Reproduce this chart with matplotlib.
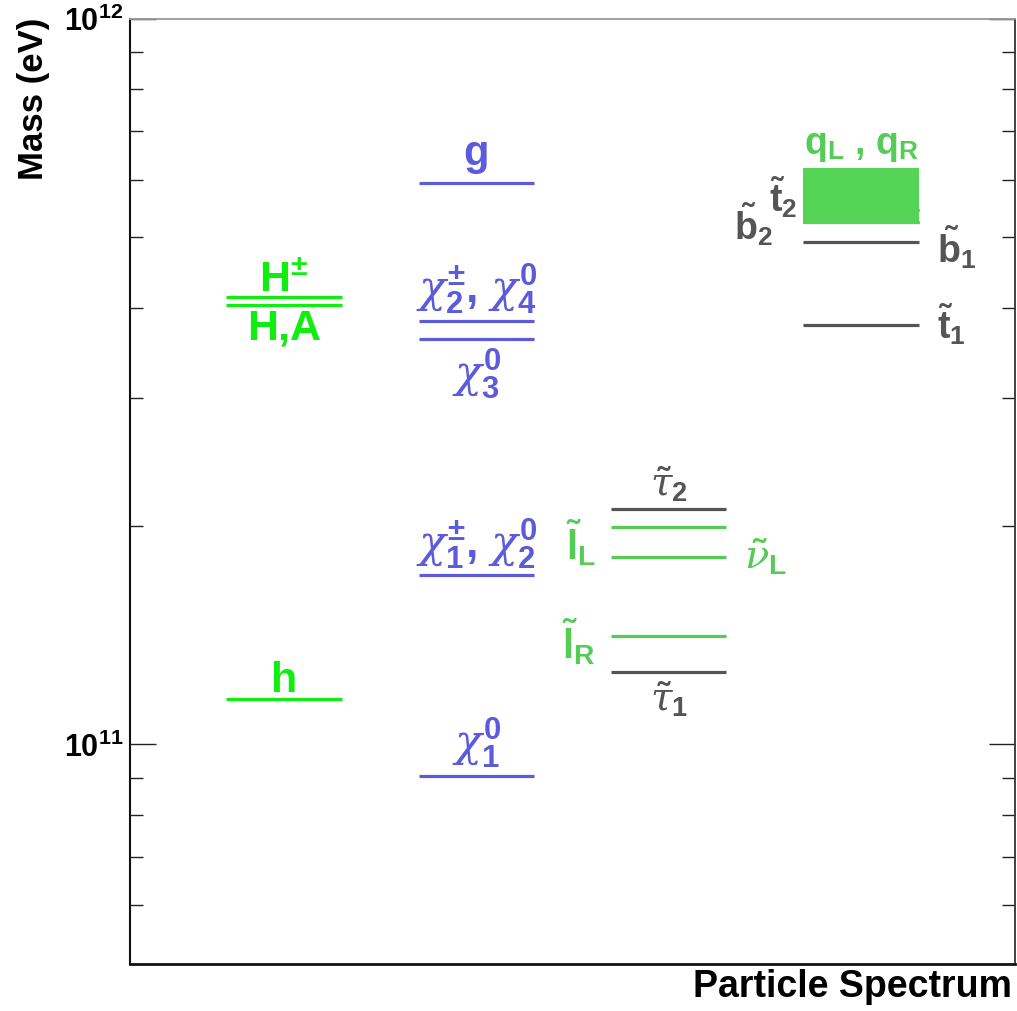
import matplotlib
matplotlib.use("Agg")
import matplotlib.pyplot as plt
from matplotlib.ticker import FixedLocator, NullFormatter, FixedFormatter

plt.rcParams["mathtext.fontset"] = "custom"
plt.rcParams["mathtext.rm"] = "Liberation Sans:bold"
plt.rcParams["mathtext.bf"] = "Liberation Sans:bold"
plt.rcParams["mathtext.sf"] = "Liberation Sans:bold"
plt.rcParams["mathtext.it"] = "DejaVu Serif:slant=italic:weight=normal"
plt.rcParams["font.family"] = ["Liberation Sans", "DejaVu Sans"]
plt.rcParams["font.weight"] = "bold"

# ---- Mass spectrum (eV) ----
higgs_labels = ["h", "H,A", "H$^{\\pm}$"]
higgs_masses = [1.156e11, 4.04e11, 4.14e11]

gaugino_labels = [r"$\chi^{0}_{1}$", r"$\chi^{\pm}_{1}$, $\chi^{0}_{2}$",
                  r"$\chi^{0}_{3}$", r"$\chi^{\pm}_{2}$, $\chi^{0}_{4}$", "g"]
gaugino_masses = [9.05e10, 1.71e11, 3.62e11, 3.83e11, 5.94e11]

slepton_labels = [r"$\tilde{\tau}_{1}$", r"$\tilde{\mathrm{l}}_{\mathrm{R}}$",
                  r"$\tilde{\nu}_{\mathrm{L}}$", r"$\tilde{\mathrm{l}}_{\mathrm{L}}$",
                  r"$\tilde{\tau}_{2}$"]
slepton_masses = [1.26e11, 1.41e11, 1.81e11, 1.995e11, 2.11e11]
slepton_is_stau = [True, False, False, False, True]

squark_labels = [r"$\tilde{\mathrm{t}}_{1}$", r"$\tilde{\mathrm{b}}_{1}$",
                 r"$\tilde{\mathrm{b}}_{2}$", r"$\tilde{\mathrm{t}}_{2}$"]
squark_masses = [3.78e11, 4.93e11, 5.25e11, 5.45e11]
light_squark_band = [5.22e11, 6.23e11]
light_squark_label = r"$\mathrm{q}_{\mathrm{L}}$ , $\mathrm{q}_{\mathrm{R}}$"

y_tick_values = [1e11, 1e12]
y_tick_labels = [r"$10^{11}$", r"$10^{12}$"]
y_minor_values = [6e10, 7e10, 8e10, 9e10] + [k * 1e11 for k in range(2, 10)]

# ---- colours / layout ----
c_higgs = "#10ee10"
c_gaugino = "#5b5bdc"
c_slepton = "#55cc55"
c_grey = "#555555"
c_band = "#55d455"
centers = [0.8, 1.8, 2.8, 3.8]
half = 0.3
lw = 2.3

fig = plt.figure(figsize=(10.17, 10.11), dpi=100)
ax = fig.add_axes([130 / 1017, 47 / 1011, 885 / 1017, 945 / 1011])
ax.set_yscale("log")
ax.set_ylim(4.98e10, 1e12)
ax.set_xlim(0, 4.6)


def levels(col, masses, colors):
    c = centers[col]
    ax.hlines(masses, c - half, c + half, colors=colors, lw=lw, zorder=2)


def tag(text, x, m, dx, dy, color, size, ha="center", va="baseline"):
    ax.annotate(text, xy=(x, m), xytext=(dx * 0.72, dy * 0.72),
                textcoords="offset points", ha=ha, va=va, color=color,
                fontsize=size, fontweight="bold", zorder=4)


# Higgs sector
levels(0, higgs_masses, c_higgs)
cx = centers[0]
tag(higgs_labels[0], cx, higgs_masses[0], 0, 7, c_higgs, 31)
tag(higgs_labels[1], cx, higgs_masses[1], 0, -35, c_higgs, 31)
tag(higgs_labels[2], cx, higgs_masses[2], 0, 5, c_higgs, 31)

# Neutralinos, charginos, gluino
levels(1, gaugino_masses, c_gaugino)
cx = centers[1]
tag(gaugino_labels[0], cx, gaugino_masses[0], 0, 6, c_gaugino, 32, va="bottom")
tag(gaugino_labels[1], cx, gaugino_masses[1], 0, 4, c_gaugino, 32, va="bottom")
tag(gaugino_labels[2], cx, gaugino_masses[2], 0, -8, c_gaugino, 32, va="top")
tag(gaugino_labels[3], cx, gaugino_masses[3], 0, 5, c_gaugino, 32, va="bottom")
tag(gaugino_labels[4], cx, gaugino_masses[4], 0, 18, c_gaugino, 30)

# Sleptons
slep_colors = [c_grey if s else c_slepton for s in slepton_is_stau]
levels(2, slepton_masses, slep_colors)
cx = centers[2]
tag(slepton_labels[0], cx, slepton_masses[0], 0, -8, c_grey, 28, va="top")
tag(slepton_labels[1], cx - half, slepton_masses[1], -15, -23, c_slepton, 29, ha="right")
tag(slepton_labels[2], cx + half, slepton_masses[2], 18, -12, c_slepton, 29, ha="left")
tag(slepton_labels[3], cx - half, slepton_masses[3], -15, -33, c_slepton, 29, ha="right")
tag(slepton_labels[4], cx, slepton_masses[4], 0, 5, c_grey, 28, va="bottom")

# Squarks
levels(3, squark_masses, c_grey)
cx = centers[3]
ax.fill_between([cx - half, cx + half], light_squark_band[0], light_squark_band[1],
                color=c_band, lw=0, zorder=3)
tag(light_squark_label, cx, light_squark_band[1], 0, 4, c_slepton, 27, va="bottom")
tag(squark_labels[0], cx + half, squark_masses[0], 18, -14, c_grey, 27, ha="left")
tag(squark_labels[1], cx + half, squark_masses[1], 18, -21, c_grey, 27, ha="left")
tag(squark_labels[2], cx - half, squark_masses[2], -31, -18, c_grey, 27, ha="right")
tag(squark_labels[3], cx - half, squark_masses[3], -6, -2, c_grey, 27, ha="right")

# Axes styling
ax.set_xticks([])
ax.yaxis.set_major_locator(FixedLocator(y_tick_values))
ax.yaxis.set_major_formatter(FixedFormatter(y_tick_labels))
ax.yaxis.set_minor_locator(FixedLocator(y_minor_values))
ax.yaxis.set_minor_formatter(NullFormatter())
ax.tick_params(axis="y", which="both", direction="in", left=True, right=True,
               color="#222222", width=1.0)
ax.tick_params(axis="y", which="major", length=19, pad=5, labelsize=22)
ax.tick_params(axis="y", which="minor", length=9.5)
for lab in ax.get_yticklabels():
    lab.set_fontweight("bold")

ax.spines["left"].set_linewidth(1.5)
ax.spines["left"].set_color("#111111")
ax.spines["bottom"].set_linewidth(2.0)
ax.spines["bottom"].set_color("#111111")
ax.spines["right"].set_linewidth(1.3)
ax.spines["right"].set_color("#333333")
ax.spines["top"].set_linewidth(1.3)
ax.spines["top"].set_color("#999999")

fig.text(33 / 1017, 1 - 18 / 1011, "Mass (eV)", rotation=90, ha="center", va="top",
         fontsize=25, fontweight="bold")
fig.text(1012 / 1017, 14 / 1011, "Particle Spectrum", ha="right", va="baseline",
         fontsize=27, fontweight="bold")

fig.savefig("out.png", dpi=100)
